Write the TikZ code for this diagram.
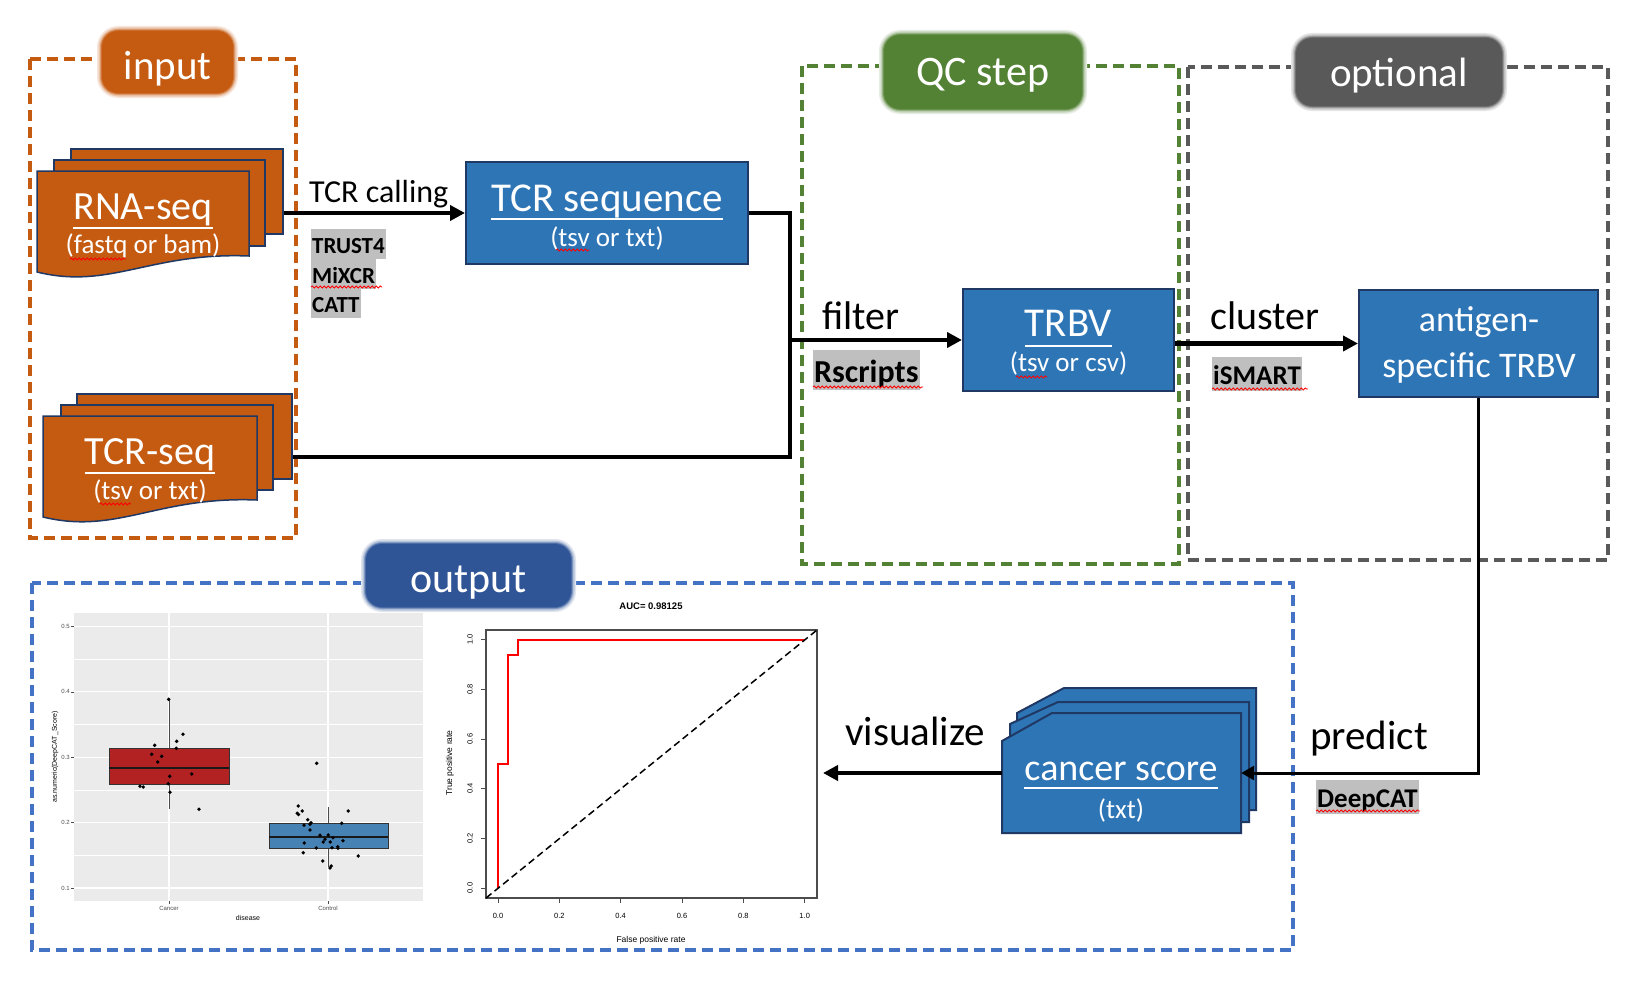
\documentclass[tikz,border=0pt]{standalone}
\usepackage{fontspec}
\setmainfont{Carlito}
\newfontfamily\plotfont{Liberation Sans}
\usetikzlibrary{arrows.meta,decorations.pathmorphing}
\definecolor{orng}{HTML}{C55A11}
\definecolor{navy}{HTML}{1F3864}
\definecolor{bxblue}{HTML}{2E75B6}
\definecolor{qcgreen}{HTML}{548235}
\definecolor{optgray}{HTML}{595959}
\definecolor{outblue}{HTML}{2F5597}
\definecolor{outdash}{HTML}{4472C4}
\definecolor{hlgray}{HTML}{BFBFBF}
\definecolor{panelgray}{HTML}{EBEBEB}
\definecolor{boxred}{HTML}{B22222}
\definecolor{boxblue}{HTML}{4682B4}
\definecolor{axgray}{HTML}{4D4D4D}
\newcommand{\myfs}[1]{\fontsize{#1pt}{#1pt}\selectfont}
\newcommand{\glowbox}[5]{%
  \fill[#1!15, rounded corners=21pt] ({#2-5},{#3-5}) rectangle ({#4+5},{#5+5});
  \fill[#1!35, rounded corners=20pt] ({#2-3.5},{#3-3.5}) rectangle ({#4+3.5},{#5+3.5});
  \fill[#1!60, rounded corners=18pt] ({#2-2},{#3-2}) rectangle ({#4+2},{#5+2});
  \fill[#1!85, rounded corners=17pt] ({#2-1},{#3-1}) rectangle ({#4+1},{#5+1});
  \fill[#1, rounded corners=16pt] (#2,#3) rectangle (#4,#5);}
\tikzset{
  dashbox/.style={line width=3.2pt, dash pattern=on 11pt off 6pt},
  conn/.style={line width=4.5pt, line join=miter},
  arr/.style={conn, -{Triangle[length=15pt,width=15pt]}},
  thinconn/.style={line width=3pt},
  thinarr/.style={thinconn, -{Triangle[length=13pt,width=14pt]}},
  docback/.style={draw=navy, line width=1.5pt, fill=orng, inner sep=0pt},
  bluebox/.style={draw=navy, line width=2pt, fill=bxblue, inner sep=0pt},
  wtxt/.style={text=white, inner sep=0pt, anchor=base},
  ul/.style={white, line width=2.6pt},
  lbltxt/.style={text=white, inner sep=0pt, anchor=base},
  steptxt/.style={inner sep=0pt, anchor=base west, font=\myfs{40}},
  hl/.style={fill=hlgray, inner xsep=1pt, inner ysep=0pt, anchor=base west},
  hlsmall/.style={hl, font=\bfseries\myfs{23}, text height=24pt, text depth=5.5pt},
  hlbig/.style={hl, font=\bfseries\myfs{32}, text height=32pt, text depth=8pt},
  hlmid/.style={hl, font=\bfseries\myfs{27}, text height=27pt, text depth=7pt},
  squig/.style={red, line width=0.8pt, decorate, decoration={snake, amplitude=1.1pt, segment length=4pt}},
  ptxt/.style={font=\plotfont\myfs{6}, text=axgray, inner sep=0pt},
  rtxt/.style={font=\plotfont\myfs{7.5}, text=black, inner sep=0pt},
}
\begin{document}
\begin{tikzpicture}[x=1pt,y=-1pt]
\useasboundingbox (0,0) rectangle (1640,982);
\fill[white] (0,0) rectangle (1640,982);

% ---------- dashed group frames ----------
\draw[dashbox, draw=orng] (30,59) rectangle (296,538);
\draw[dashbox, draw=qcgreen] (802,66) rectangle (1179,564);
\draw[dashbox, draw=optgray] (1188,67) rectangle (1608,560);
\draw[dashbox, draw=outdash] (32,583) rectangle (1293,950);

% ---------- group labels ----------
\glowbox{orng}{102}{31}{233}{93}
\node[lbltxt, font=\myfs{41}] (inputlbl) at (167.5,79) {input};
\glowbox{qcgreen}{884}{35}{1082}{109}
\node[lbltxt, font=\myfs{42}] (qclbl) at (983,85) {QC step};
\glowbox{optgray}{1296}{38}{1502}{106}
\node[lbltxt, font=\myfs{41}] (optlbl) at (1399,86) {optional};
\glowbox{outblue}{366}{544}{571}{607}
\node[lbltxt, font=\myfs{42}] (outlbl) at (468.5,592) {output};

% ---------- RNA-seq stack ----------
\node[docback, minimum width=212pt, minimum height=85pt] (rnab3) at (177,191.5) {};
\node[docback, minimum width=211pt, minimum height=86pt] (rnab2) at (159.5,203) {};
\filldraw[docback] (37,171) -- (249,171) -- (249,256)
  .. controls (150,252) and (110,290) .. (37,272) -- cycle;
\node[wtxt, font=\myfs{40}] (rnat) at (143,219) {RNA-seq};
\draw[ul] ([yshift=-9pt]rnat.base west) -- ([yshift=-9pt]rnat.base east);
\node[wtxt, font=\myfs{27}] (rnas) at (143,253) {(fastq or bam)};

% ---------- TCR-seq stack ----------
\node[docback, minimum width=215pt, minimum height=85pt] (tcrb3) at (184.5,436.5) {};
\node[docback, minimum width=212pt, minimum height=85pt] (tcrb2) at (167,447.5) {};
\filldraw[docback] (43,416) -- (257,416) -- (257,500)
  .. controls (157,496) and (117,535) .. (43,517) -- cycle;
\node[wtxt, font=\myfs{40}] (tcrt) at (150,464) {TCR-seq};
\draw[ul] ([yshift=-9pt]tcrt.base west) -- ([yshift=-9pt]tcrt.base east);
\node[wtxt, font=\myfs{27}] (tcrs) at (150,499) {(tsv or txt)};

% ---------- blue boxes ----------
\node[bluebox, minimum width=282pt, minimum height=102pt] (tcrseq) at (607,213) {};
\node[wtxt, font=\myfs{41}] (tcrseqt) at (607,211) {TCR sequence};
\draw[ul] ([yshift=-8pt]tcrseqt.base west) -- ([yshift=-8pt]tcrseqt.base east);
\node[wtxt, font=\myfs{27}] (tcrseqs) at (607,246) {(tsv or txt)};

\node[bluebox, minimum width=211pt, minimum height=102pt] (trbv) at (1068.5,340) {};
\node[wtxt, font=\myfs{41}] (trbvt) at (1068.5,336) {TRBV};
\draw[ul] ([yshift=-10pt]trbvt.base west) -- ([yshift=-10pt]trbvt.base east);
\node[wtxt, font=\myfs{27}] (trbvs) at (1068.5,371) {(tsv or csv)};

\node[bluebox, minimum width=239pt, minimum height=107pt] (antigen) at (1478.5,343.5) {};
\node[wtxt, font=\myfs{36}] (antt1) at (1479,331) {antigen-};
\node[wtxt, font=\myfs{36}] (antt2) at (1479,377) {specific TRBV};

% ---------- cancer score stack ----------
\filldraw[bluebox] (1017,713) -- (1064,688) -- (1256,688) -- (1256,810) -- (1017,810) -- cycle;
\filldraw[bluebox] (1010,724) -- (1058,702) -- (1249,702) -- (1249,822) -- (1010,822) -- cycle;
\filldraw[bluebox] (1002,741) -- (1052,713) -- (1241,713) -- (1241,833) -- (1002,833) -- cycle;
\node[minimum width=239pt, minimum height=120pt, inner sep=0pt] (cs) at (1121.5,773) {};
\node[wtxt, font=\myfs{38}] (cst) at (1121,780) {cancer score};
\draw[ul] ([yshift=-8pt]cst.base west) -- ([yshift=-8pt]cst.base east);
\node[wtxt, font=\myfs{27}] (css) at (1121,818) {(txt)};

% ---------- connectors ----------
\coordinate (j1) at (790,213);
\coordinate (j2) at (790,457);
\coordinate (j3) at (790,340);
\coordinate (vizend) at (823,773);
\draw[arr] (rnab3.east |- tcrseq.west) -- (tcrseq.west);
\draw[conn] (tcrseq.east) -- (j1) -- (j2) -- (tcrb3.east |- j2);
\draw[arr] (j3) -- (trbv.west);
\draw[arr] (trbv.east |- antigen.west) -- (antigen.west);
\draw[thinarr] (antigen.south) |- (cs.east);
\draw[arr] (cs.west) -- (vizend);

% ---------- step labels ----------
\node[steptxt, font=\myfs{32}] (callt) at (309,202) {TCR calling};
\node[steptxt] (filtt) at (822,329) {filter};
\node[steptxt] (clust) at (1210,329) {cluster};
\node[steptxt, font=\myfs{41}] (vist) at (845,745) {visualize};
\node[steptxt, font=\myfs{41}] (predt) at (1310,749) {predict};

% ---------- tool highlights ----------
\node[hlsmall] (trust) at (311,253) {TRUST4};
\node[hlsmall] (mixcr) at (311,283) {MiXCR};
\node[hlsmall] (catt) at (311,312) {CATT};
\node[hlbig] (rscr) at (813,382) {Rscripts};
\node[hlmid] (ismart) at (1212,384) {iSMART};
\node[hlmid] (deepcat) at (1316,807) {DeepCAT};

% ---------- spell-check squiggles ----------
\draw[squig] (70,259) -- (126,259);
\draw[squig] (100,504) -- (131,504);
\draw[squig] (311,287) -- (382,287);
\draw[squig] (813,387) -- (923,387);
\draw[squig] (1212,389) -- (1308,389);
\draw[squig] (1316,811) -- (1420,811);
\draw[squig] (556,250) -- (589,250);
\draw[squig] (1016,377) -- (1047,377);

% ---------- box plot ----------
\fill[panelgray] (74,613) rectangle (423,901);
\foreach \v in {0.15,0.25,0.35,0.45}
  \draw[white, line width=0.5pt] (74,{888-(\v-0.1)*654}) -- (423,{888-(\v-0.1)*654});
\foreach \v/\t in {0.1/0.1,0.2/0.2,0.3/0.3,0.4/0.4,0.5/0.5} {
  \draw[white, line width=1.1pt] (74,{888-(\v-0.1)*654}) -- (423,{888-(\v-0.1)*654});
  \draw[axgray, line width=0.5pt] (71,{888-(\v-0.1)*654}) -- (74,{888-(\v-0.1)*654});
  \node[ptxt, anchor=east] at (70,{888-(\v-0.1)*654}) {\t};
}
\draw[white, line width=1.1pt] (169,613) -- (169,901);
\draw[white, line width=1.1pt] (328,613) -- (328,901);
\draw[axgray, line width=0.5pt] (169,901) -- (169,904);
\draw[axgray, line width=0.5pt] (328,901) -- (328,904);
% cancer
\draw[gray!60!black, line width=1pt] (169,699) -- (169,748);
\draw[gray!60!black, line width=1pt] (169,784) -- (169,809);
\filldraw[fill=boxred, draw=gray!40!black, line width=1pt] (109,748) rectangle (229,784);
\draw[gray!20!black, line width=1.6pt] (109,768) -- (229,768);
% control
\draw[gray!60!black, line width=1pt] (328,807) -- (328,823);
\draw[gray!60!black, line width=1pt] (328,848) -- (328,867);
\filldraw[fill=boxblue, draw=gray!40!black, line width=1pt] (269,823) rectangle (388,848);
\draw[gray!20!black, line width=1.6pt] (269,837) -- (388,837);
\foreach \px/\py in {168.7/699.3, 183/734.3, 176.7/741.3, 154.7/745.3, 176.3/748.3,
  151.7/754.3, 161.7/756.3, 157.7/762, 169.7/776.3, 191.7/774, 168.3/783.7,
  170/792.3, 140/786.3, 143.3/787, 199/809.3,
  316.7/763.3, 298.3/806, 302.3/811, 297.3/813.3, 298.5/814.5, 348.3/811,
  307.7/819.7, 311/822.7, 310/824.3, 304/825.3, 341.7/823.3, 310/830,
  320/835.3, 328.3/835, 325/839.3, 333/837.7, 323.3/842, 330.3/842,
  343/840.7, 304.3/843, 316.3/848, 332/847.7, 337.7/846.7, 338/848.3,
  303.3/852.7, 358.3/856, 322.7/861, 331.3/866, 330/868}
  \fill[black] (\px,\py) circle (1.9pt);
\node[ptxt] (canlbl) at (169,908) {Cancer};
\node[ptxt] (conlbl) at (328,908) {Control};
\node[ptxt, font=\plotfont\myfs{7}, text=black] (dislbl) at (248,918) {disease};
\node[ptxt, font=\plotfont\myfs{7}, text=black, rotate=90] (ylbl) at (55,757) {as.numeric(DeepCAT\_Score)};

% ---------- ROC plot ----------
\draw[gray!60!black, line width=1.2pt] (486,630) rectangle (817,898);
\foreach \v/\t in {0/0.0,0.2/0.2,0.4/0.4,0.6/0.6,0.8/0.8,1/1.0} {
  \draw[gray!60!black, line width=0.7pt] (481,{888-\v*248.3}) -- (486,{888-\v*248.3});
  \node[rtxt, rotate=90] at (470,{888-\v*248.3}) {\t};
  \draw[gray!60!black, line width=0.7pt] ({498+\v*306.7},898) -- ({498+\v*306.7},903);
  \node[rtxt] at ({498+\v*306.7},916) {\t};
}
\draw[red, line width=2pt, line join=miter] (498,888) -- (498,763.9) -- (508.2,763.9) -- (508.2,655.2)
  -- (518.4,655.2) -- (518.4,639.7) -- (804.7,639.7);
\draw[black, line width=1.5pt, dash pattern=on 7pt off 4pt] (486,898) -- (817,630);
\node[rtxt, font=\plotfont\bfseries\myfs{9.5}] (auc) at (651,606) {AUC= 0.98125};
\node[rtxt, font=\plotfont\myfs{8.5}] (fpr) at (651,940) {False positive rate};
\node[rtxt, font=\plotfont\myfs{8.5}, rotate=90] (tpr) at (450,763) {True positive rate};
\end{tikzpicture}
\end{document}
